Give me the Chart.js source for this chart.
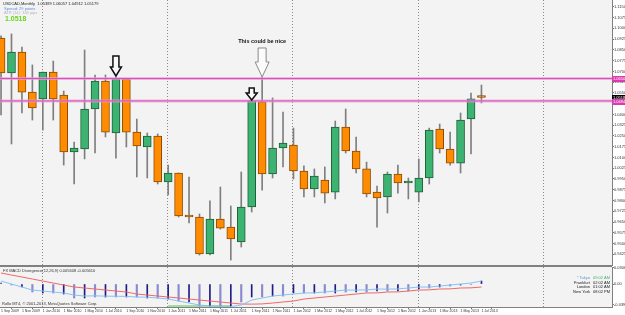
<!DOCTYPE html>
<html>
<head>
<meta charset="utf-8">
<title>USDCAD Monthly</title>
<script src="https://cdn.jsdelivr.net/npm/chart.js@4.4.1/dist/chart.umd.min.js"></script>
<style>
  html, body { margin: 0; padding: 0; background: #fff; }
  #wrap { position: relative; width: 625px; height: 315px; overflow: hidden; }
  canvas { position: absolute; left: 0; }
  #priceChart { top: 0; }
  #macdChart { top: 266px; }
</style>
</head>
<body>
<div id="wrap">
  <canvas id="priceChart" width="625" height="266"></canvas>
  <canvas id="macdChart" width="625" height="49"></canvas>
</div>
<script>
// DATA
// =============================================================================

// one monthly candle each, Sep 2009 .. Jul 2013 (index 0 .. 46)
const opens = [1.0933, 1.0689, 1.0835, 1.0556, 1.0508, 1.0696, 1.0535, 1.0138, 1.0159, 1.0438,
  1.0633, 1.0271, 1.0647, 1.0277, 1.0173, 1.0250, 0.9929, 0.9992, 0.9699, 0.9685,
  0.9427, 0.9671, 0.9615, 0.9511, 0.9755, 1.0487, 0.9985, 1.0166, 1.0187, 1.0006,
  0.9880, 0.9943, 0.9859, 1.0312, 1.0145, 1.0020, 0.9859, 0.9825, 0.9985, 0.9922,
  0.9859, 0.9957, 1.0298, 1.0159, 1.0061, 1.0368, 1.0530];
const highs = [1.0947, 1.0961, 1.0870, 1.0745, 1.0696, 1.0772, 1.0563, 1.0208, 1.0849, 1.0675,
  1.0675, 1.0661, 1.0647, 1.0368, 1.0271, 1.0264, 1.0047, 0.9992, 0.9964, 0.9706,
  0.9797, 0.9894, 0.9762, 0.9999, 1.0494, 1.0661, 1.0515, 1.0417, 1.0305, 1.0041,
  1.0020, 1.0034, 1.0354, 1.0438, 1.0243, 1.0068, 0.9901, 0.9999, 1.0047, 0.9957,
  1.0090, 1.0305, 1.0333, 1.0277, 1.0410, 1.0549, 1.0605];
const lows = [1.0396, 1.0194, 1.0410, 1.0361, 1.0291, 1.0361, 1.0047, 0.9915, 1.0090, 1.0131,
  1.0243, 1.0096, 1.0173, 0.9964, 0.9957, 0.9915, 0.9839, 0.9685, 0.9643, 0.9420,
  0.9420, 0.9601, 0.9385, 0.9476, 0.9720, 0.9873, 0.9957, 1.0034, 0.9950, 0.9825,
  0.9825, 0.9783, 0.9811, 1.0131, 0.9992, 0.9825, 0.9615, 0.9713, 0.9852, 0.9811,
  0.9790, 0.9915, 1.0131, 1.0047, 0.9992, 1.0124, 1.0480];
const closes = [1.0689, 1.0835, 1.0556, 1.0445, 1.0696, 1.0508, 1.0138, 1.0166, 1.0438, 1.0633,
  1.0277, 1.0647, 1.0277, 1.0180, 1.0250, 0.9929, 0.9992, 0.9692, 0.9685, 0.9427,
  0.9671, 0.9608, 0.9532, 0.9755, 1.0494, 0.9985, 1.0166, 1.0201, 1.0006, 0.9880,
  0.9971, 0.9852, 1.0312, 1.0145, 1.0020, 0.9846, 0.9818, 0.9985, 0.9922, 0.9936,
  0.9957, 1.0291, 1.0159, 1.0061, 1.0361, 1.0508, 1.0518];

// time axis labels, every second month (bar 0, 2, 4 ...)
const monthLabels = ['1 Sep 2009', '1 Nov 2009', '1 Jan 2010', '1 Mar 2010', '1 May 2010', '1 Jul 2010',
  '1 Sep 2010', '1 Nov 2010', '1 Jan 2011', '1 Mar 2011', '1 May 2011', '1 Jul 2011',
  '1 Sep 2011', '1 Nov 2011', '1 Jan 2012', '1 Mar 2012', '1 May 2012', '1 Jul 2012',
  '1 Sep 2012', '1 Nov 2012', '1 Jan 2013', '1 Mar 2013', '1 May 2013', '1 Jul 2013'];
const yearStartBars = [4, 16, 28, 40, 52];

// price scale labels
const priceTicks = [1.1150, 1.1075, 1.1000, 1.0925, 1.0850, 1.0775, 1.0700, 1.0625, 1.0550, 1.0475,
  1.0400, 1.0325, 1.0250, 1.0175, 1.0100, 1.0025, 0.9950, 0.9875, 0.9800, 0.9725,
  0.9650, 0.9575, 0.9500, 0.9425];
const levelPrices = [1.0650, 1.0494];
const lastPrice = 1.0518;

// MACD window
const macdMain = [0.0056, 0.0000, -0.0056, -0.0113, -0.0132, -0.0150, -0.0169, -0.0207, -0.0226, -0.0222,
  -0.0228, -0.0230, -0.0233, -0.0244, -0.0248, -0.0263, -0.0282, -0.0320, -0.0357, -0.0395,
  -0.0414, -0.0426, -0.0424, -0.0395, -0.0301, -0.0263, -0.0226, -0.0207, -0.0188, -0.0169,
  -0.0165, -0.0150, -0.0132, -0.0113, -0.0115, -0.0110, -0.0094, -0.0096, -0.0092, -0.0075,
  -0.0056, -0.0058, -0.0038, -0.0019, 0.0000, 0.0019, 0.0056];
const macdSignal = [0.0207, 0.0169, 0.0132, 0.0094, 0.0056, 0.0019, -0.0019, -0.0056, -0.0075, -0.0094,
  -0.0113, -0.0132, -0.0150, -0.0188, -0.0207, -0.0226, -0.0244, -0.0263, -0.0282, -0.0301,
  -0.0320, -0.0338, -0.0357, -0.0376, -0.0378, -0.0374, -0.0357, -0.0338, -0.0320, -0.0282,
  -0.0263, -0.0244, -0.0226, -0.0207, -0.0188, -0.0169, -0.0167, -0.0150, -0.0148, -0.0132,
  -0.0113, -0.0110, -0.0094, -0.0091, -0.0075, -0.0072, -0.0056];
const macdHist = [0.0019, -0.0019, -0.0056, -0.0150, -0.0169, -0.0169, -0.0188, -0.0263, -0.0263, -0.0244,
  -0.0244, -0.0244, -0.0244, -0.0244, -0.0263, -0.0263, -0.0282, -0.0320, -0.0338, -0.0414,
  -0.0414, -0.0426, -0.0426, -0.0338, -0.0244, -0.0244, -0.0226, -0.0226, -0.0169, -0.0169,
  -0.0169, -0.0169, -0.0169, -0.0150, -0.0150, -0.0150, -0.0132, -0.0132, -0.0132, -0.0132,
  -0.0094, -0.0075, -0.0056, -0.0038, -0.0019, -0.0010, 0.0056];
const macdTicks = [0.0306, 0, -0.0390];
const divergenceSpan = [16, 22];

// notes drawn on the chart
const markedBars = [11, 24];
const noteBar = 25;
const noteText = 'This could be nice';
const infoLines = ['USDCAD,Monthly  1.05389 1.06057 1.04912 1.05179', 'Spread: 29 points', 'ATR (14): 344 pips'];
const clockCities = ['* Tokyo', 'Frankfurt', 'London', 'New York'];
const clockTimes = ['09:02 AM', '02:02 AM', '01:02 AM', '08:02 PM'];

// STYLE
// =============================================================================

const FONT = "'Liberation Sans Narrow', 'Liberation Sans', Arial, sans-serif";
const GREEN = '#3cb371';
const GREEN_EDGE = '#1f5f38';
const ORANGE = '#ff8c00';
const ORANGE_EDGE = '#8f4a00';
const X_MIN = -0.1;
const X_MAX = 58.5;
const isUp = (i) => closes[i] >= opens[i];

/**
 * Dotted year separators, shared by both windows
 */
const drawSeparators = (chart) => {
  const { ctx, chartArea: a, scales: { x } } = chart;
  ctx.save();
  ctx.strokeStyle = '#8a8a8a';
  ctx.lineWidth = 1;
  ctx.setLineDash([1, 2]);
  yearStartBars.forEach((i) => {
    const px = Math.round(x.getPixelForValue(i)) - 0.5;
    ctx.beginPath();
    ctx.moveTo(px, a.top);
    ctx.lineTo(px, a.bottom);
    ctx.stroke();
  });
  ctx.restore();
};

const paintBackground = (chart) => {
  const { ctx, chartArea: a } = chart;
  ctx.save();
  ctx.fillStyle = '#ffffff';
  ctx.fillRect(0, 0, chart.width, chart.height);
  ctx.fillStyle = '#f3f3f3';
  ctx.fillRect(a.left, a.top, a.right - a.left, a.bottom - a.top);
  ctx.restore();
};

/**
 * Hollow down arrow with its tip at (cx, tipY)
 */
const drawArrow = (ctx, cx, tipY, shaftW, shaftH, headW, headH, stroke, lineWidth) => {
  const neck = tipY - headH;
  const top = neck - shaftH;
  ctx.beginPath();
  ctx.moveTo(cx - shaftW / 2, top);
  ctx.lineTo(cx + shaftW / 2, top);
  ctx.lineTo(cx + shaftW / 2, neck);
  ctx.lineTo(cx + headW / 2, neck);
  ctx.lineTo(cx, tipY);
  ctx.lineTo(cx - headW / 2, neck);
  ctx.lineTo(cx - shaftW / 2, neck);
  ctx.closePath();
  ctx.fillStyle = '#fbfbfb';
  ctx.fill();
  ctx.strokeStyle = stroke;
  ctx.lineWidth = lineWidth;
  ctx.stroke();
};

const priceTag = (ctx, y, bg, text) => {
  ctx.fillStyle = bg;
  ctx.fillRect(612, Math.round(y) - 3, 13, 6);
  ctx.fillStyle = '#ffffff';
  ctx.font = `4px ${FONT}`;
  ctx.textAlign = 'left';
  ctx.textBaseline = 'middle';
  ctx.fillText(text, 613, Math.round(y) + 0.3);
};

const priceDecor = {
  id: 'priceDecor',
  beforeDraw(chart) {
    paintBackground(chart);
  },
  beforeDatasetsDraw(chart) {
    drawSeparators(chart);
  },
  afterDatasetsDraw(chart) {
    const { ctx, chartArea: a, scales: { x, y } } = chart;
    ctx.save();

    // horizontal levels
    levelPrices.forEach((p) => {
      const py = y.getPixelForValue(p);
      ctx.strokeStyle = 'rgba(236, 160, 220, 0.7)';
      ctx.lineWidth = 3;
      ctx.beginPath(); ctx.moveTo(a.left, py); ctx.lineTo(a.right, py); ctx.stroke();
      ctx.strokeStyle = '#d24cb4';
      ctx.lineWidth = 1;
      ctx.beginPath(); ctx.moveTo(a.left, py); ctx.lineTo(a.right, py); ctx.stroke();
    });

    // small black arrows over marked bars
    markedBars.forEach((i, k) => {
      const cx = x.getPixelForValue(i);
      const tip = y.getPixelForValue(highs[i]) - 1;
      if (k === 0) drawArrow(ctx, cx, tip, 6, 11, 11, 9, '#111111', 1.5);
      else drawArrow(ctx, cx, tip, 5, 5, 11, 7, '#111111', 1.5);
    });

    // big grey arrow with its note
    const nx = x.getPixelForValue(noteBar);
    const nTip = y.getPixelForValue(highs[noteBar]);
    drawArrow(ctx, nx, nTip, 8, 14, 14, 15, '#8a8a8a', 1);
    ctx.fillStyle = '#111111';
    ctx.font = `bold 5.5px 'Liberation Sans', Arial, sans-serif`;
    ctx.textAlign = 'center';
    ctx.textBaseline = 'middle';
    ctx.fillText(noteText, nx, nTip - 36);

    // info block top left
    ctx.textAlign = 'left';
    ctx.font = `4px 'Liberation Sans', Arial, sans-serif`;
    ctx.fillStyle = '#222222';
    ctx.fillText(infoLines[0], 3, 4);
    ctx.fillStyle = '#5b8fe0';
    ctx.fillText(infoLines[1], 4, 8.5);
    ctx.fillStyle = '#b4b4b4';
    ctx.fillText(infoLines[2], 4, 13);
    ctx.fillStyle = '#66d61a';
    ctx.font = `bold 7px 'Liberation Sans', Arial, sans-serif`;
    ctx.fillText(lastPrice.toFixed(4), 5, 19.5);

    // bottom frame
    ctx.strokeStyle = '#808080';
    ctx.lineWidth = 1;
    ctx.beginPath(); ctx.moveTo(0, a.bottom - 0.5); ctx.lineTo(a.right, a.bottom - 0.5); ctx.stroke();
    ctx.restore();
  },
  afterDraw(chart) {
    const { ctx, scales: { y } } = chart;
    ctx.save();
    priceTag(ctx, y.getPixelForValue(levelPrices[0]), '#d83cae', levelPrices[0].toFixed(4));
    priceTag(ctx, y.getPixelForValue(lastPrice), '#000000', lastPrice.toFixed(4));
    priceTag(ctx, y.getPixelForValue(levelPrices[1]) + 1.5, '#d83cae', levelPrices[1].toFixed(4));
    ctx.restore();
  }
};

const macdDecor = {
  id: 'macdDecor',
  beforeDraw(chart) {
    paintBackground(chart);
  },
  beforeDatasetsDraw(chart) {
    const { ctx, chartArea: a, scales: { x } } = chart;
    drawSeparators(chart);
    ctx.save();
    const x0 = x.getPixelForValue(divergenceSpan[0]);
    const x1 = x.getPixelForValue(divergenceSpan[1]);
    ctx.fillStyle = '#a3dca3';
    ctx.fillRect(x0, a.bottom - 2, x1 - x0, 2);
    ctx.restore();
  },
  afterDraw(chart) {
    const { ctx, chartArea: a } = chart;
    ctx.save();
    ctx.strokeStyle = '#808080';
    ctx.lineWidth = 1;
    ctx.beginPath(); ctx.moveTo(0, 0.5); ctx.lineTo(a.right, 0.5); ctx.stroke();

    ctx.font = `4px 'Liberation Sans', Arial, sans-serif`;
    ctx.textAlign = 'left';
    ctx.textBaseline = 'middle';
    ctx.fillStyle = '#333333';
    ctx.fillText('FX MACD Divergence(12,26,9) 0.005608 -0.005610', 3, 4.5);
    ctx.fillText('Rollo MT4, \u00a9 2001-2013, MetaQuotes Software Corp.', 2, 37.5);

    // session clocks
    clockCities.forEach((city, k) => {
      const cy = 12 + k * 4.6;
      ctx.textAlign = 'right';
      ctx.fillStyle = k === 0 ? '#5b9be0' : '#222222';
      ctx.fillText(city, 590, cy);
      ctx.textAlign = 'left';
      ctx.fillStyle = k === 0 ? '#3cb371' : '#222222';
      ctx.fillText(clockTimes[k], 593, cy);
    });
    ctx.restore();
  }
};

// CHARTS
// =============================================================================

new Chart(document.getElementById('priceChart'), {
  type: 'bar',
  data: {
    datasets: [
      {
        label: 'range',
        data: opens.map((_, i) => ({ x: i, y: [lows[i], highs[i]] })),
        backgroundColor: '#7f7f7f',
        barThickness: 1,
        grouped: false,
        order: 2
      },
      {
        label: 'body',
        data: opens.map((o, i) => ({ x: i, y: [o, closes[i]] })),
        backgroundColor: (c) => (isUp(c.dataIndex) ? GREEN : ORANGE),
        borderColor: (c) => (isUp(c.dataIndex) ? GREEN_EDGE : ORANGE_EDGE),
        borderWidth: 1,
        borderSkipped: false,
        barThickness: 8,
        minBarLength: 2,
        grouped: false,
        order: 1
      }
    ]
  },
  options: {
    responsive: false,
    animation: false,
    devicePixelRatio: 1,
    layout: { padding: 0 },
    plugins: { legend: { display: false }, tooltip: { enabled: false } },
    scales: {
      x: { type: 'linear', min: X_MIN, max: X_MAX, offset: false, display: false },
      y: {
        position: 'right',
        min: 0.93436,
        max: 1.11976,
        afterBuildTicks: (s) => { s.ticks = priceTicks.map((v) => ({ value: v })); },
        afterFit: (s) => { s.width = 13; s.paddingTop = 0; s.paddingBottom = 0; },
        grid: { drawOnChartArea: false, drawTicks: true, tickLength: 2, color: '#777777' },
        border: { display: true, color: '#808080' },
        ticks: {
          padding: 0,
          color: '#333333',
          font: { family: FONT, size: 4 },
          callback: (v) => v.toFixed(4)
        }
      }
    }
  },
  plugins: [priceDecor]
});

new Chart(document.getElementById('macdChart'), {
  type: 'bar',
  data: {
    datasets: [
      {
        type: 'line',
        data: macdMain.map((v, i) => ({ x: i, y: v })),
        borderColor: '#87c3f3',
        borderWidth: 1,
        pointRadius: 0,
        tension: 0,
        order: 0
      },
      {
        type: 'line',
        data: macdSignal.map((v, i) => ({ x: i, y: v })),
        borderColor: '#f06868',
        borderWidth: 1,
        pointRadius: 0,
        tension: 0,
        order: 0
      },
      {
        type: 'bar',
        data: macdHist.map((v, i) => ({ x: i, y: v })).filter((p) => p.x % 2 === 0),
        backgroundColor: '#1c1c8a',
        barThickness: 1,
        grouped: false,
        order: 1
      },
      {
        type: 'bar',
        data: macdHist.map((v, i) => ({ x: i, y: v })).filter((p) => p.x % 2 === 1),
        backgroundColor: '#8a8ad0',
        barThickness: 1.5,
        grouped: false,
        order: 1
      }
    ]
  },
  options: {
    responsive: false,
    animation: false,
    devicePixelRatio: 1,
    layout: { padding: { top: 1 } },
    plugins: { legend: { display: false }, tooltip: { enabled: false } },
    scales: {
      x: {
        type: 'linear',
        min: X_MIN,
        max: X_MAX,
        offset: false,
        afterBuildTicks: (s) => { s.ticks = monthLabels.map((_, k) => ({ value: k * 2 })); },
        afterFit: (s) => { s.height = 8; s.paddingLeft = 0; s.paddingRight = 0; },
        grid: { drawOnChartArea: false, drawTicks: true, tickLength: 2, color: '#777777' },
        border: { display: true, color: '#808080' },
        ticks: {
          align: 'start',
          autoSkip: false,
          maxRotation: 0,
          padding: 0,
          color: '#333333',
          font: { family: FONT, size: 3.5 },
          callback: (v, k) => monthLabels[k]
        }
      },
      y: {
        position: 'right',
        min: -0.0432,
        max: 0.0320,
        afterBuildTicks: (s) => { s.ticks = macdTicks.map((v) => ({ value: v })); },
        afterFit: (s) => { s.width = 13; s.paddingTop = 0; s.paddingBottom = 0; },
        grid: { drawOnChartArea: false, drawTicks: true, tickLength: 2, color: '#777777' },
        border: { display: true, color: '#808080' },
        ticks: {
          padding: 0,
          color: '#333333',
          font: { family: FONT, size: 4 },
          callback: (v) => (v === 0 ? '0.00' : v.toFixed(4))
        }
      }
    }
  },
  plugins: [macdDecor]
});
</script>
</body>
</html>
